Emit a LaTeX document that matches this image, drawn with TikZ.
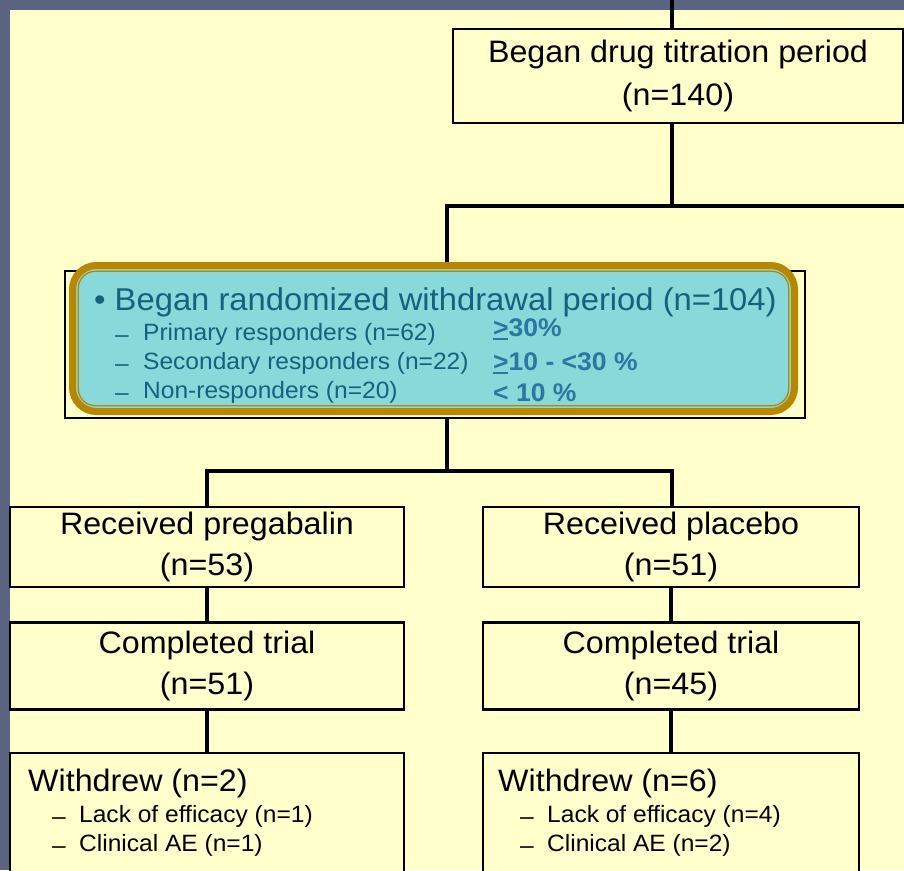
\documentclass[tikz,border=0pt]{standalone}
\usepackage{fontspec}
\setmainfont{Liberation Sans}[FakeStretch=1.04]
\definecolor{slide}{RGB}{255,255,204}
\definecolor{rim}{RGB}{90,99,128}
\definecolor{hlfill}{RGB}{136,217,217}
\definecolor{hlgold}{RGB}{184,134,0}
\definecolor{hltext}{RGB}{23,96,127}
\definecolor{hlpct}{RGB}{42,120,160}
\newcommand\subdash{\raisebox{-2pt}{--}}
\newcommand\ulgt{\ooalign{>\cr\rule[-4pt]{0.58em}{2pt}\cr}}

\begin{document}
\begin{tikzpicture}[
  x=1pt,y=-1pt,
  stepbox/.style={rectangle,draw=black,line width=2.5pt,fill=slide,inner sep=0pt,align=center,
    font=\fontsize{31}{41}\selectfont},
  link/.style={line width=4pt},
  headtxt/.style={inner sep=0pt,anchor=base west,font=\fontsize{31}{41}\selectfont},
  subtxt/.style={inner sep=0pt,anchor=base west,font=\fontsize{23.6}{28}\selectfont},
  pcttxt/.style={inner sep=0pt,anchor=base west,text=hlpct,font=\fontsize{25.5}{30}\selectfont\bfseries}
]
  \clip (0,0) rectangle (904,870);
  \fill[rim] (0,0) rectangle (904,870);
  \fill[slide] (10,10) rectangle (904,870);

  \node[stepbox,minimum width=450pt,minimum height=94pt] (titr) at (678,76)
    {Began drug titration period\\[2pt](n=140)};

  % randomized withdrawal, highlighted
  \node[rectangle,draw=black,line width=2.5pt,fill=slide,minimum width=740pt,minimum height=147pt] (rand) at (435,344.5) {};
  \node[rectangle,draw=hlgold,line width=7pt,fill=hlfill,rounded corners=24pt,
    minimum width=722pt,minimum height=146pt] (randhl) at (433.5,338.5) {};
  \draw[hlgold,line width=1.3pt,rounded corners=17pt]
    ([shift={(9.3,9.3)}]randhl.north west) rectangle ([shift={(-9.3,-9.3)}]randhl.south east);
  \node[headtxt,text=hltext,font=\fontsize{31.5}{41}\selectfont] (randa) at (94,310)
    {\textbullet\ Began randomized withdrawal period (n=104)};
  \node[subtxt,text=hltext] (randb) at (115,340) {\makebox[28pt][l]{\subdash}Primary responders (n=62)};
  \node[subtxt,text=hltext] (randc) at (115,369) {\makebox[28pt][l]{\subdash}Secondary responders (n=22)};
  \node[subtxt,text=hltext] (randd) at (115,398) {\makebox[28pt][l]{\subdash}Non-responders (n=20)};
  \node[pcttxt] (pcta) at (493,336) {\ulgt30\%};
  \node[pcttxt] (pctb) at (493,370) {\ulgt10 - <30 \%};
  \node[pcttxt] (pctc) at (493,401) {< 10 \%};

  \node[stepbox,minimum width=394pt,minimum height=80pt] (recvL) at (207,547) {Received pregabalin\\(n=53)};
  \node[stepbox,minimum width=376pt,minimum height=80pt] (recvR) at (671,547) {Received placebo\\(n=51)};
  \node[stepbox,minimum width=394pt,minimum height=87pt] (complL) at (207,666) {Completed trial\\(n=51)};
  \node[stepbox,minimum width=376pt,minimum height=87pt] (complR) at (671,666) {Completed trial\\(n=45)};
  \node[stepbox,minimum width=394pt,minimum height=140pt] (wdrL) at (207,823) {};
  \node[stepbox,minimum width=376pt,minimum height=140pt] (wdrR) at (671,823) {};

  \node[headtxt] (wdrLa) at (28,791) {Withdrew (n=2)};
  \node[subtxt] (wdrLb) at (52,822) {\makebox[27pt][l]{\subdash}Lack of efficacy (n=1)};
  \node[subtxt] (wdrLc) at (52,851) {\makebox[27pt][l]{\subdash}Clinical AE (n=1)};
  \node[headtxt] (wdrRa) at (498,791) {Withdrew (n=6)};
  \node[subtxt] (wdrRb) at (520,822) {\makebox[27pt][l]{\subdash}Lack of efficacy (n=4)};
  \node[subtxt] (wdrRc) at (520,851) {\makebox[27pt][l]{\subdash}Clinical AE (n=2)};

  \coordinate (ctop) at (672,0);
  \coordinate (j1w) at (447,206);
  \coordinate (j1e) at (904,206);
  \coordinate (j2w) at (207,471);
  \coordinate (j2e) at (672,471);

  \draw[link] (ctop) -- (ctop |- titr.north);
  \draw[link] (ctop |- titr.south) -- (ctop |- j1w);
  \draw[link] (j1e) -- (j1w) -- (j1w |- randhl.north);
  \draw[link] (j1w |- rand.south) -- (j1w |- j2w);
  \draw[link] (j2w |- recvL.north) -- (j2w) -- (j2e) -- (j2e |- recvR.north);
  \draw[link] (recvL.south) -- (complL.north);
  \draw[link] (recvR.south) -- (complR.north);
  \draw[link] (complL.south) -- (wdrL.north);
  \draw[link] (complR.south) -- (wdrR.north);
\end{tikzpicture}
\end{document}
